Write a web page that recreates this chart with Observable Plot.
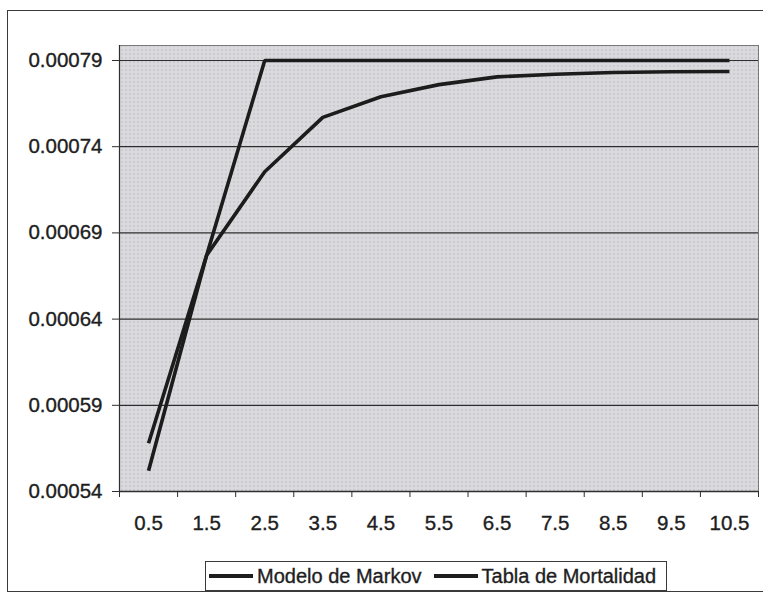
<!DOCTYPE html>
<html>
<head>
<meta charset="utf-8">
<script src="https://cdn.jsdelivr.net/npm/d3@7"></script>
<script src="https://cdn.jsdelivr.net/npm/@observablehq/plot@0.6"></script>
<style>
  html, body { margin: 0; padding: 0; background: #ffffff; overflow: hidden; width: 763px; height: 594px; }
  #outer { position: absolute; left: 7px; top: 10px; width: 820px; height: 582px; border: 1.5px solid #3a3a3a; box-sizing: border-box; }
  #chart { position: absolute; left: 0; top: 0; }
  #chart svg text { stroke: #1e1e1e; stroke-width: 0.35px; }
  #legend { position: absolute; left: 205px; top: 561px; width: 462px; height: 30px; border: 1.2px solid #3a3a3a; box-sizing: border-box;
            font-family: "Liberation Sans", Arial, sans-serif; font-size: 20px; color: #1e1e1e; display: flex; align-items: center; white-space: nowrap;
            -webkit-text-stroke: 0.35px #1e1e1e; }
  .sw { display: inline-block; width: 44px; height: 4px; background: #1e1e1e; margin-right: 4px; }
  .item { display: flex; align-items: center; }
</style>
</head>
<body>
<div id="outer"></div>
<div id="chart"></div>
<div id="legend"></div>
<script>
// x categories (midpoints) and their labels
const xCats = [0.5, 1.5, 2.5, 3.5, 4.5, 5.5, 6.5, 7.5, 8.5, 9.5, 10.5];
const xLabels = ["0.5", "1.5", "2.5", "3.5", "4.5", "5.5", "6.5", "7.5", "8.5", "9.5", "10.5"];
// series
const seriesNames = ["Modelo de Markov", "Tabla de Mortalidad"];
const markov = [0.000568, 0.000677, 0.0007255, 0.000757, 0.000769, 0.000776, 0.0007805, 0.000782, 0.000783, 0.0007835, 0.0007836];
const tabla  = [0.000552, 0.000677, 0.00079, 0.00079, 0.00079, 0.00079, 0.00079, 0.00079, 0.00079, 0.00079, 0.00079];
// y ticks
const yTicks = [0.00054, 0.00059, 0.00064, 0.00069, 0.00074, 0.00079];
const yDomain = [0.00054, 0.0007987];

const data = [];
xCats.forEach((x, i) => {
  data.push({x, y: markov[i], s: seriesNames[0]});
  data.push({x, y: tabla[i], s: seriesNames[1]});
});
const boundaries = [xCats[0] - 0.5, ...xCats.map(d => d + 0.5)];

const svg = Plot.plot({
  width: 763,
  height: 545,
  marginLeft: 119,
  marginRight: 5,
  marginTop: 45,
  marginBottom: 54,
  style: {fontFamily: "'Liberation Sans', Arial, sans-serif", fontSize: "20.5px", color: "#1e1e1e", background: "transparent", overflow: "visible"},
  x: {type: "linear", domain: [boundaries[0], boundaries[boundaries.length - 1]]},
  y: {type: "linear", domain: yDomain},
  marks: [
    Plot.frame({fill: "url(#hatch)", stroke: "#7a7a7a", strokeWidth: 1}),
    Plot.ruleY(yTicks, {stroke: "#2e2e2e", strokeWidth: 1.2}),
    Plot.ruleX([boundaries[0]], {stroke: "#2e2e2e", strokeWidth: 1.2}),
    Plot.ruleY([yDomain[0]], {stroke: "#2e2e2e", strokeWidth: 1.4}),
    Plot.axisY({ticks: yTicks, tickFormat: d3.format(".5f"), tickSize: 7, tickPadding: 10, label: null, fontSize: 20.5, stroke: "#2e2e2e"}),
    Plot.axisX({ticks: boundaries, tickFormat: () => "", tickSize: 6, label: null, stroke: "#2e2e2e"}),
    Plot.axisX({ticks: xCats, tickFormat: (d) => xLabels[xCats.indexOf(d)], tickSize: 0, tickPadding: 24, label: null, fontSize: 20.5}),
    Plot.line(data, {x: "x", y: "y", z: "s", stroke: "#1c1c1c", strokeWidth: 3.6, strokeLinejoin: "miter", strokeLinecap: "butt"})
  ]
});

// hatched plot-area pattern
const ns = "http://www.w3.org/2000/svg";
const defs = document.createElementNS(ns, "defs");
defs.innerHTML = `
  <pattern id="hatch" width="4" height="4" patternUnits="userSpaceOnUse">
    <rect width="4" height="4" fill="#e6e6e9"/>
    <path d="M0,0 L3,3 M3,0 L0,3" stroke="#a9a9ae" stroke-width="0.8"/>
  </pattern>`;
svg.insertBefore(defs, svg.firstChild);
document.getElementById("chart").appendChild(svg);

// legend
const legend = document.getElementById("legend");
seriesNames.forEach((name, i) => {
  const item = document.createElement("span");
  item.className = "item";
  item.style.marginLeft = i === 0 ? "3px" : "12px";
  const sw = document.createElement("span");
  sw.className = "sw";
  const t = document.createElement("span");
  t.textContent = name;
  item.appendChild(sw);
  item.appendChild(t);
  legend.appendChild(item);
});
</script>
</body>
</html>
